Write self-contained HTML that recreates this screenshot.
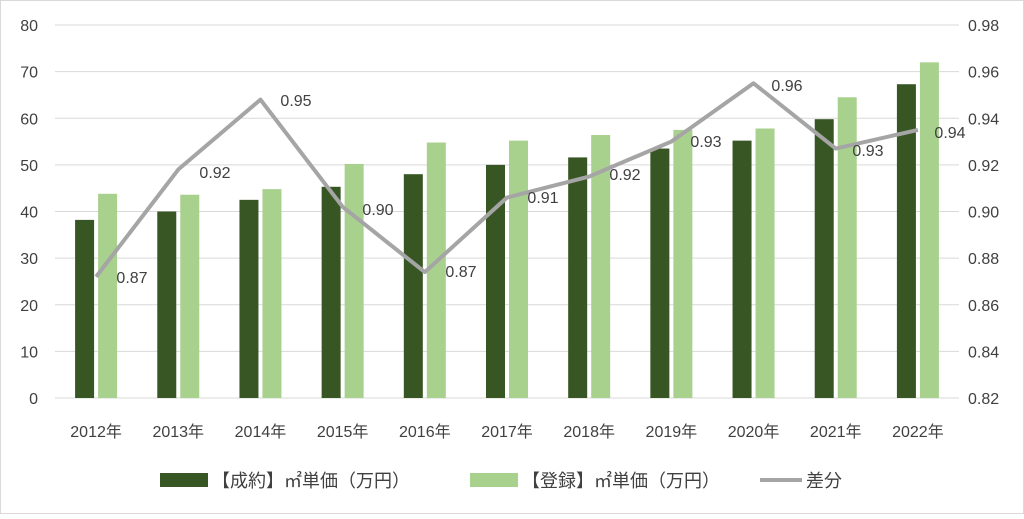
<!DOCTYPE html>
<html><head><meta charset="utf-8"><style>
body{margin:0;background:#fff}
svg text{font-family:"Liberation Sans","Noto Sans CJK JP",sans-serif;fill:#404040;font-size:16px}
svg text.lg{font-size:18px}
</style></head><body>
<svg width="1024" height="514" xmlns="http://www.w3.org/2000/svg">
<rect x="0.5" y="0.5" width="1023" height="513" fill="#fff" stroke="#d9d9d9"/>
<g id="g"></g>
<script>
const g=document.getElementById('g');const ns='http://www.w3.org/2000/svg';
function el(t,a,txt){const e=document.createElementNS(ns,t);for(const k in a)e.setAttribute(k,a[k]);if(txt!==undefined)e.textContent=txt;g.appendChild(e);return e;}
const y0=398,h=373,L=55,W=904,step=W/11;
for(let i=0;i<=8;i++){const y=y0-i*h/8;el('line',{x1:L,x2:L+W,y1:y,y2:y,stroke:'#d9d9d9','stroke-width':1});
el('text',{x:38,y:y+6,'text-anchor':'end'},String(i*10));
el('text',{x:968,y:y+6},(0.82+i*0.02).toFixed(2));}
const d=[38.2,40,42.5,45.3,48,50,51.6,53.5,55.2,59.8,67.3],l=[43.8,43.6,44.8,50.2,54.8,55.2,56.4,57.5,57.8,64.5,72],r=[0.872,0.918,0.948,0.902,0.874,0.906,0.915,0.930,0.955,0.927,0.935];
let pts=[];
for(let i=0;i<11;i++){const c=L+step*(i+0.5);
el('rect',{x:c-21,y:y0-d[i]*h/80,width:19,height:d[i]*h/80,fill:'#375623'});
el('rect',{x:c+2,y:y0-l[i]*h/80,width:19,height:l[i]*h/80,fill:'#a9d18e'});
el('text',{x:c,y:437,'text-anchor':'middle'},(2012+i)+'年');
pts.push(c+','+(y0-(r[i]-0.82)/0.16*h));}
el('polyline',{points:pts.join(' '),fill:'none',stroke:'#a5a5a5','stroke-width':4,'stroke-linejoin':'round'});
const lab=[[132,277,'0.87'],[215,172,'0.92'],[296,100,'0.95'],[378,209,'0.90'],[461,271,'0.87'],[543,197,'0.91'],[625,174,'0.92'],[706,141,'0.93'],[787,85,'0.96'],[868,150,'0.93'],[950,132,'0.94']];
lab.forEach(a=>el('text',{x:a[0],y:a[1]+6,'text-anchor':'middle'},a[2]));
el('rect',{x:160,y:473,width:48,height:14,fill:'#375623'});
el('text',{x:212,y:487,class:'lg'},'【成約】㎡単価（万円）');
el('rect',{x:470,y:473,width:48,height:14,fill:'#a9d18e'});
el('text',{x:522,y:487,class:'lg'},'【登録】㎡単価（万円）');
el('line',{x1:760,x2:802,y1:480,y2:480,stroke:'#a5a5a5','stroke-width':4});
el('text',{x:806,y:487,class:'lg'},'差分');
</script>
</svg>
</body></html>
